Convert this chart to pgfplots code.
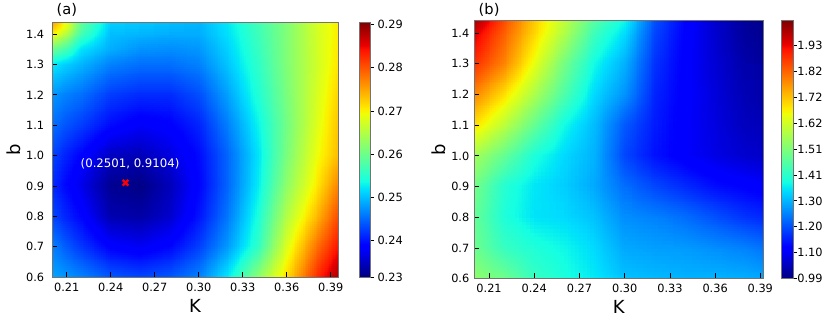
\documentclass[border=0pt]{standalone}
\usepackage{fontspec}
\setmainfont{DejaVu Sans}
\usepackage{pgfplots}
\usepackage{pgfplotstable}
\pgfplotsset{compat=1.18}
\usepgfplotslibrary{patchplots}

% matplotlib jet
\pgfplotsset{
  colormap={mjet}{rgb(0pt)=(0,0,0.5); rgb(11pt)=(0,0,1); rgb(12.5pt)=(0,0,1);
    rgb(34pt)=(0,0.86,1); rgb(35pt)=(0,0.9,0.968); rgb(37.5pt)=(0.081,1,0.887);
    rgb(64pt)=(0.935,1,0.032); rgb(65pt)=(0.968,0.963,0); rgb(66pt)=(1,0.926,0);
    rgb(89pt)=(1,0.074,0); rgb(91pt)=(0.909,0,0); rgb(100pt)=(0.5,0,0)},
}

% panel (a): 12 columns K = 0.2 0.21 0.22 0.24 ... 0.38 0.395, rows b = 0.6 ... 1.44
\pgfplotstableread{
K b z
0.2 0.6 0.2485
0.21 0.6 0.2476
0.22 0.6 0.2465
0.24 0.6 0.2440
0.26 0.6 0.2430
0.28 0.6 0.2440
0.30 0.6 0.2465
0.32 0.6 0.2525
0.34 0.6 0.2620
0.36 0.6 0.2715
0.38 0.6 0.2823
0.395 0.6 0.2885
0.2 0.7 0.2465
0.21 0.7 0.2441
0.22 0.7 0.2420
0.24 0.7 0.2385
0.26 0.7 0.2375
0.28 0.7 0.2390
0.30 0.7 0.2425
0.32 0.7 0.2480
0.34 0.7 0.2555
0.36 0.7 0.2680
0.38 0.7 0.2780
0.395 0.7 0.2840
0.2 0.8 0.2430
0.21 0.8 0.2408
0.22 0.8 0.2390
0.24 0.8 0.2340
0.26 0.8 0.2335
0.28 0.8 0.2355
0.30 0.8 0.2400
0.32 0.8 0.2460
0.34 0.8 0.2540
0.36 0.8 0.2650
0.38 0.8 0.2735
0.395 0.8 0.2805
0.2 0.9 0.2415
0.21 0.9 0.2391
0.22 0.9 0.2370
0.24 0.9 0.2325
0.26 0.9 0.2318
0.28 0.9 0.2345
0.30 0.9 0.2390
0.32 0.9 0.2450
0.34 0.9 0.2525
0.36 0.9 0.2625
0.38 0.9 0.2705
0.395 0.9 0.2770
0.2 1.0 0.2430
0.21 1.0 0.2408
0.22 1.0 0.2390
0.24 1.0 0.2350
0.26 1.0 0.2345
0.28 1.0 0.2365
0.30 1.0 0.2395
0.32 1.0 0.2450
0.34 1.0 0.2520
0.36 1.0 0.2610
0.38 1.0 0.2690
0.395 1.0 0.2735
0.2 1.1 0.2455
0.21 1.1 0.2438
0.22 1.1 0.2425
0.24 1.1 0.2395
0.26 1.1 0.2380
0.28 1.1 0.2387
0.30 1.1 0.2410
0.32 1.1 0.2465
0.34 1.1 0.2530
0.36 1.1 0.2605
0.38 1.1 0.2680
0.395 1.1 0.2730
0.2 1.2 0.2478
0.21 1.2 0.2465
0.22 1.2 0.2455
0.24 1.2 0.2425
0.26 1.2 0.2415
0.28 1.2 0.2415
0.30 1.2 0.2435
0.32 1.2 0.2485
0.34 1.2 0.2545
0.36 1.2 0.2610
0.38 1.2 0.2675
0.395 1.2 0.2720
0.2 1.3 0.2525
0.21 1.3 0.2510
0.22 1.3 0.2495
0.24 1.3 0.2465
0.26 1.3 0.2455
0.28 1.3 0.2455
0.30 1.3 0.2465
0.32 1.3 0.2505
0.34 1.3 0.2555
0.36 1.3 0.2615
0.38 1.3 0.2670
0.395 1.3 0.2710
0.2 1.35 0.2600
0.21 1.35 0.2570
0.22 1.35 0.2520
0.24 1.35 0.2490
0.26 1.35 0.2475
0.28 1.35 0.2472
0.30 1.35 0.2477
0.32 1.35 0.2512
0.34 1.35 0.2560
0.36 1.35 0.2615
0.38 1.35 0.2671
0.395 1.35 0.2708
0.2 1.4 0.2705
0.21 1.4 0.2650
0.22 1.4 0.2570
0.24 1.4 0.2500
0.26 1.4 0.2495
0.28 1.4 0.2490
0.30 1.4 0.2490
0.32 1.4 0.2520
0.34 1.4 0.2565
0.36 1.4 0.2615
0.38 1.4 0.2672
0.395 1.4 0.2705
0.2 1.42 0.2735
0.21 1.42 0.2680
0.22 1.42 0.2585
0.24 1.42 0.2505
0.26 1.42 0.2500
0.28 1.42 0.2495
0.30 1.42 0.2492
0.32 1.42 0.2522
0.34 1.42 0.2567
0.36 1.42 0.2615
0.38 1.42 0.2673
0.395 1.42 0.2705
0.2 1.44 0.2760
0.21 1.44 0.2690
0.22 1.44 0.2590
0.24 1.44 0.2510
0.26 1.44 0.2505
0.28 1.44 0.2500
0.30 1.44 0.2495
0.32 1.44 0.2525
0.34 1.44 0.2570
0.36 1.44 0.2615
0.38 1.44 0.2675
0.395 1.44 0.2705
}\gridA

% panel (b): rows b = 0.6 ... 1.44, K = 0.2 ... 0.392
\pgfplotstableread{
K b z
0.2 0.6 1.53
0.22 0.6 1.49
0.24 0.6 1.42
0.26 0.6 1.385
0.28 0.6 1.355
0.30 0.6 1.315
0.32 0.6 1.307
0.34 0.6 1.30
0.36 0.6 1.30
0.38 0.6 1.297
0.392 0.6 1.29
0.2 0.7 1.49
0.22 0.7 1.42
0.24 0.7 1.39
0.26 0.7 1.37
0.28 0.7 1.34
0.30 0.7 1.29
0.32 0.7 1.28
0.34 0.7 1.276
0.36 0.7 1.263
0.38 0.7 1.25
0.392 0.7 1.237
0.2 0.8 1.48
0.22 0.8 1.39
0.24 0.8 1.35
0.26 0.8 1.34
0.28 0.8 1.315
0.30 0.8 1.263
0.32 0.8 1.25
0.34 0.8 1.23
0.36 0.8 1.20
0.38 0.8 1.17
0.392 0.8 1.16
0.2 0.9 1.50
0.22 0.9 1.40
0.24 0.9 1.354
0.26 0.9 1.328
0.28 0.9 1.29
0.30 0.9 1.23
0.32 0.9 1.19
0.34 0.9 1.16
0.36 0.9 1.13
0.38 0.9 1.115
0.392 0.9 1.105
0.2 1.0 1.56
0.22 1.0 1.48
0.24 1.0 1.39
0.26 1.0 1.34
0.28 1.0 1.30
0.30 1.0 1.19
0.32 1.0 1.135
0.34 1.0 1.105
0.36 1.0 1.08
0.38 1.0 1.06
0.392 1.0 1.055
0.2 1.1 1.69
0.22 1.1 1.59
0.24 1.1 1.48
0.26 1.1 1.375
0.28 1.1 1.31
0.30 1.1 1.21
0.32 1.1 1.145
0.34 1.1 1.105
0.36 1.1 1.075
0.38 1.1 1.045
0.392 1.1 1.04
0.2 1.2 1.79
0.22 1.2 1.69
0.24 1.2 1.57
0.26 1.2 1.45
0.28 1.2 1.34
0.30 1.2 1.27
0.32 1.2 1.155
0.34 1.2 1.11
0.36 1.2 1.07
0.38 1.2 1.035
0.392 1.2 1.025
0.2 1.3 1.885
0.22 1.3 1.79
0.24 1.3 1.645
0.26 1.3 1.50
0.28 1.3 1.375
0.30 1.3 1.30
0.32 1.3 1.17
0.34 1.3 1.11
0.36 1.3 1.065
0.38 1.3 1.025
0.392 1.3 1.015
0.2 1.4 1.95
0.22 1.4 1.83
0.24 1.4 1.70
0.26 1.4 1.575
0.28 1.4 1.43
0.30 1.4 1.345
0.32 1.4 1.19
0.34 1.4 1.115
0.36 1.4 1.06
0.38 1.4 1.015
0.392 1.4 1.003
0.2 1.44 2.00
0.22 1.44 1.85
0.24 1.44 1.71
0.26 1.44 1.59
0.28 1.44 1.46
0.30 1.44 1.37
0.32 1.44 1.20
0.34 1.44 1.12
0.36 1.44 1.06
0.38 1.44 1.013
0.392 1.44 1.0
}\gridB

\pgfplotsset{
  heat/.style={
    scale only axis, axis on top, enlargelimits=false, clip=false,
    colormap name=mjet,
    tick align=inside, xtick pos=bottom, ytick pos=left,
    major tick length=4pt,
    tick style={black, line width=0.6pt},
    axis line style={black!55, line width=0.5pt},
    ticklabel style={font=\fontsize{8.5}{10}\selectfont},
    xtick={0.21,0.24,0.27,0.30,0.33,0.36,0.39},
    xticklabels={0.21,0.24,0.27,0.30,0.33,0.36,0.39},
    ytick={0.6,0.7,0.8,0.9,1.0,1.1,1.2,1.3,1.4},
    yticklabels={0.6,0.7,0.8,0.9,1.0,1.1,1.2,1.3,1.4},
    xmin=0.2, ymin=0.6, ymax=1.44,
    xticklabel style={yshift=-0.7pt},
  },
  cbar/.style={
    tick align=outside, ytick pos=right, yticklabel pos=right,
    major tick length=2.5pt,
    tick style={black, line width=0.6pt},
    axis line style={black!55, line width=0.5pt},
  },
}

\begin{document}
\begin{tikzpicture}
\path[use as bounding box] (0,0) rectangle (622.5pt,240.75pt);

\begin{axis}[heat,
  at={(39pt,33pt)}, anchor=south west,
  width=214.5pt, height=191.25pt, xmax=0.395,
  point meta min=0.2316, point meta max=0.2906,
  yticklabel style={xshift=-2.4pt},
  colorbar,
  colorbar style={cbar,
    at={(parent axis.north east)}, anchor=north west, xshift=7.46pt,
    width=8.6pt, height=191.25pt,
    yticklabel style={font=\fontsize{8.5}{10}\selectfont, xshift=-1pt},
    ytick={0.2316,0.24,0.25,0.26,0.27,0.28,0.29},
    yticklabels={0.23,0.24,0.25,0.26,0.27,0.28,0.29},
  },
]
\addplot[surf, shader=interp, patch type=bilinear, mesh/cols=12, point meta=\thisrow{z}]
  table[x=K, y=b] {\gridA};
\addplot[only marks, mark=x, mark size=3pt, line width=1.8pt, red]
  coordinates {(0.2501,0.9104)};
\node[text=white, anchor=base, font=\fontsize{8.8}{10}\selectfont]
  at (axis description cs:0.273,0.431) {(0.2501, 0.9104)};
\node[anchor=base west, font=\fontsize{11}{12}\selectfont]
  at ([yshift=5.5pt]axis description cs:0,1) {(a)};
\node[anchor=base, font=\fontsize{13.5}{15}\selectfont]
  at ([yshift=-26.5pt]axis description cs:0.5,0) {K};
\node[anchor=base, rotate=90, font=\fontsize{13.5}{15}\selectfont]
  at ([xshift=-23.5pt]axis description cs:0,0.5) {b};
\end{axis}

\begin{axis}[heat,
  at={(355.5pt,31.7pt)}, anchor=south west,
  width=217pt, height=193.5pt, xmax=0.392,
  point meta min=0.99, point meta max=2.028,
  colorbar,
  colorbar style={cbar,
    at={(parent axis.north east)}, anchor=north west, xshift=5.26pt,
    width=8.7pt, height=193.5pt,
    yticklabel style={font=\fontsize{8.5}{10}\selectfont, xshift=-3pt},
    ytick={0.99,1.0944,1.1988,1.3032,1.4076,1.512,1.6164,1.7208,1.8252,1.9296},
    yticklabels={0.99,1.10,1.20,1.30,1.41,1.51,1.62,1.72,1.82,1.93},
  },
]
\addplot[surf, shader=interp, patch type=bilinear, mesh/cols=11, point meta=\thisrow{z}]
  table[x=K, y=b] {\gridB};
\node[anchor=base west, font=\fontsize{11}{12}\selectfont]
  at ([yshift=5pt]axis description cs:0,1) {(b)};
\node[anchor=base, font=\fontsize{13.5}{15}\selectfont]
  at ([yshift=-25.9pt]axis description cs:0.5,0) {K};
\node[anchor=base, rotate=90, font=\fontsize{13.5}{15}\selectfont]
  at ([xshift=-21.2pt]axis description cs:0,0.5) {b};
\end{axis}
\end{tikzpicture}
\end{document}
